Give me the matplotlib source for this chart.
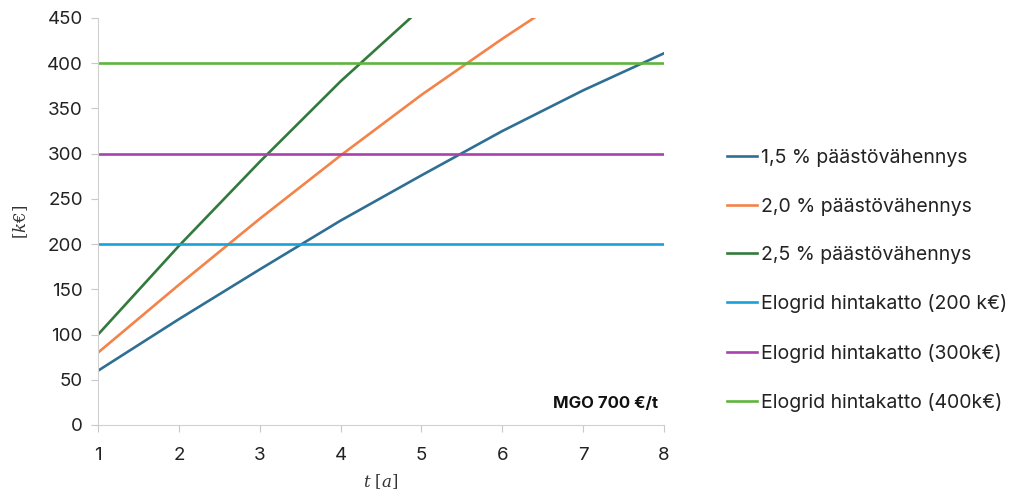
import matplotlib
matplotlib.use("Agg")
import matplotlib.pyplot as plt

plt.rcParams["font.family"] = ["Inter", "DejaVu Sans"]
plt.rcParams["mathtext.fontset"] = "dejavuserif"

t = [1, 2, 3, 4, 5, 6, 7, 8]

red_15 = [60, 117, 172, 226, 276, 325, 370, 411]
red_20 = [80, 155, 228, 298, 365, 427, 486, 540]
red_25 = [100, 198, 291, 380, 461, 540, 615, 685]
cap_200 = [200] * 8
cap_300 = [300] * 8
cap_400 = [400] * 8

labels = [
    "1,5 % päästövähennys",
    "2,0 % päästövähennys",
    "2,5 % päästövähennys",
    "Elogrid hintakatto (200 k€)",
    "Elogrid hintakatto (300k€)",
    "Elogrid hintakatto (400k€)",
]
colors = ["#2f6f94", "#f4834a", "#327a3b", "#17a2da", "#a942ad", "#5fb43e"]
series = [red_15, red_20, red_25, cap_200, cap_300, cap_400]

fig = plt.figure(figsize=(10.18, 4.97), dpi=100)
ax = fig.add_axes([0.0963, 0.1449, 0.5560, 0.8189])

for vals, lab, col in zip(series, labels, colors):
    ax.plot(t, vals, color=col, linewidth=1.9, label=lab)

ax.set_xlim(1, 8)
ax.set_ylim(0, 450)
ax.set_xticks(t)
ax.set_yticks(range(0, 451, 50))

for side in ["top", "right"]:
    ax.spines[side].set_visible(False)
for side in ["left", "bottom"]:
    ax.spines[side].set_color("#d0d0d0")
ax.tick_params(axis="both", colors="#c8c8c8", labelcolor="#222222",
               labelsize=13.5, length=5)
ax.tick_params(axis="x", pad=11)
ax.tick_params(axis="y", pad=6)

ax.set_ylabel("[$k$€]", family="DejaVu Serif", fontsize=12, color="#333333",
              labelpad=12)
ax.set_xlabel("$t$ [$a$]", family="DejaVu Serif", fontsize=12, color="#333333",
              labelpad=6)

ax.text(0.99, 0.035, "MGO 700 €/t", transform=ax.transAxes, ha="right",
        va="bottom", fontsize=12, fontweight="bold", color="#111111")

ax.legend(loc="center left", bbox_to_anchor=(1.08, 0.355), frameon=False,
          fontsize=14, handlelength=1.55, handletextpad=0.2,
          labelspacing=1.56, labelcolor="#222222")

fig.savefig("out.png", dpi=100)
